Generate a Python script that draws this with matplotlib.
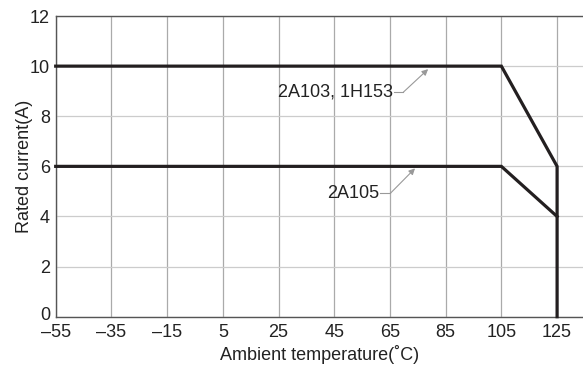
import numpy as np
import matplotlib.pyplot as plt
import matplotlib.transforms as mtransforms

plt.rcParams['font.family'] = ['Liberation Sans', 'DejaVu Sans']

# derating curves
temp_a = [-55, 105, 125, 125]
curr_a = [10, 10, 6, 0]
temp_b = [-55, 105, 125]
curr_b = [6, 6, 4]

xticks = [-55, -35, -15, 5, 25, 45, 65, 85, 105, 125]
xlabels = ['\u201355', '\u201335', '\u201315', '5', '25', '45', '65', '85', '105', '125']
yticks = [0, 2, 4, 6, 8, 10, 12]

fig = plt.figure(figsize=(5.83, 3.65), dpi=100)
ax = fig.add_axes([0.0955, 0.1323, 0.9045, 0.8238])

ax.set_xlim(-55, 134.3)
ax.set_ylim(0, 12)
ax.set_xticks(xticks)
ax.set_xticklabels(xlabels)
ax.set_yticks(yticks)
ax.tick_params(length=0, labelsize=13, colors='#222222')
ax.tick_params(axis='y', pad=4)
ax.tick_params(axis='x', pad=5)

# nudge the "0" up a little so it clears "-55"
lab0 = ax.get_yticklabels()[0]
lab0.set_transform(lab0.get_transform() + mtransforms.ScaledTranslation(0, 2 / 72, fig.dpi_scale_trans))

ax.grid(True, axis='x', color='#aaaaaa', lw=0.9)
ax.grid(True, axis='y', color='#cccccc', lw=0.9)
ax.set_axisbelow(True)

for s in ['left', 'bottom', 'top']:
    ax.spines[s].set_color('#555555')
    ax.spines[s].set_linewidth(1.0)
ax.spines['right'].set_visible(False)

ax.plot(temp_a, curr_a, color='#231f20', lw=2.3, solid_joinstyle='miter', clip_on=False, zorder=3)
ax.plot(temp_b, curr_b, color='#231f20', lw=2.3, solid_joinstyle='miter', clip_on=False, zorder=3)

arrow = dict(arrowstyle='-|>', color='#999999', lw=0.8, mutation_scale=9, shrinkA=0, shrinkB=0)
ax.text(66.2, 8.96, '2A103, 1H153', ha='right', va='center', fontsize=13, color='#222222')
ax.plot([66.6, 69.8], [8.96, 8.96], color='#999999', lw=0.8)
ax.annotate('', xy=(78.7, 9.88), xytext=(69.8, 8.96), arrowprops=arrow)

ax.text(61.1, 4.92, '2A105', ha='right', va='center', fontsize=13, color='#222222')
ax.plot([61.5, 65.1], [4.92, 4.92], color='#999999', lw=0.8)
ax.annotate('', xy=(74.0, 5.92), xytext=(65.1, 4.92), arrowprops=arrow)

ax.set_xlabel('Ambient temperature(\u02daC)', fontsize=13, color='#222222')
ax.set_ylabel('Rated current(A)', fontsize=13, color='#222222')
ax.xaxis.set_label_coords(0.5, -0.094)
ax.yaxis.set_label_coords(-0.043, 0.5)

fig.savefig('out.png', dpi=100)
